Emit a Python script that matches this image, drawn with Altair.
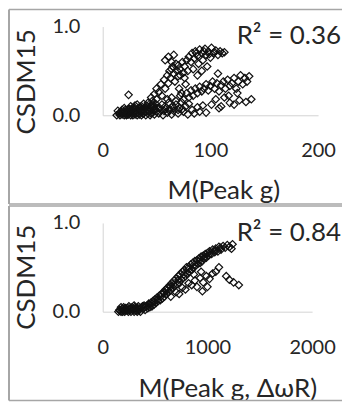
import altair as alt
import pandas as pd

FONT = "Lato"
TXT = "#262626"

# ---------------- data: top panel, CSDM15 vs M(Peak g) ----------------
top_x = [13, 14, 15, 16, 17, 18, 18, 19, 20, 20, 21, 22, 22, 23, 24, 24, 25, 26, 26, 27,
         28, 28, 29, 30, 30, 31, 32, 32, 33, 34, 34, 35, 36, 36, 37, 38, 38, 39, 40, 40,
         41, 42, 42, 43, 44, 44, 45, 46, 46, 47, 48, 48, 49, 50, 50,
         16, 19, 21, 23, 25, 27, 29, 31, 33, 35, 37, 39, 41, 43, 45, 47, 49, 51, 26, 30,
         34, 38, 42, 46, 54, 58, 62, 66, 70, 74,
         52, 53, 55, 56, 57, 58, 60, 61, 62, 64, 65, 66, 68, 70, 71, 73, 75, 77, 79, 80,
         83, 85, 88, 90, 93, 96,
         45, 48, 50, 52, 54, 55, 57, 58, 60, 61, 62, 63, 65, 66, 67, 68, 69, 70, 71, 72,
         73, 74, 75, 76, 77, 78, 79, 64, 70, 72, 76,
         58, 61, 64, 66,
         80, 82, 83, 85, 86, 88, 89, 90, 92, 93, 95, 96, 98, 100, 101, 103, 105, 107, 109, 111, 113,
         87, 94, 99, 104,
         84, 92, 97, 107, 88,
         60, 64, 68, 72, 75, 78, 80, 82, 84, 86, 88, 90, 92, 94, 96, 98, 100, 102, 104, 106,
         108, 110, 112, 114, 116, 118, 120, 122, 124, 126, 128, 130, 132, 134, 136, 125, 117,
         101, 105, 110, 113, 118, 122, 127, 133, 138, 108,
         24]
top_y = [0.00, 0.05, 0.02, 0.00, 0.04, 0.01, 0.06, 0.03, 0.00, 0.08, 0.02, 0.05, 0.00, 0.03, 0.07, 0.01, 0.04, 0.00, 0.10, 0.02,
         0.06, 0.00, 0.03, 0.08, 0.01, 0.05, 0.00, 0.12, 0.03, 0.07, 0.01, 0.04, 0.00, 0.10, 0.06, 0.02, 0.13, 0.04, 0.00, 0.09,
         0.06, 0.02, 0.14, 0.04, 0.08, 0.00, 0.11, 0.03, 0.16, 0.06, 0.01, 0.10, 0.13, 0.04, 0.18,
         0.02, 0.03, 0.06, 0.01, 0.07, 0.04, 0.08, 0.03, 0.06, 0.09, 0.02, 0.07, 0.11, 0.05, 0.02, 0.09, 0.06, 0.08, 0.06, 0.11,
         0.09, 0.08, 0.07, 0.12, 0.06, 0.07, 0.05, 0.08, 0.06, 0.07,
         0.02, 0.08, 0.12, 0.00, 0.05, 0.10, 0.03, 0.14, 0.07, 0.01, 0.10, 0.05, 0.12, 0.02, 0.08, 0.15, 0.04, 0.10, 0.01, 0.13,
         0.06, 0.02, 0.09, 0.04, 0.11, 0.03,
         0.20, 0.24, 0.30, 0.26, 0.35, 0.22, 0.40, 0.30, 0.45, 0.36, 0.50, 0.42, 0.55, 0.47, 0.38, 0.58, 0.50, 0.44, 0.30, 0.52,
         0.25, 0.60, 0.48, 0.55, 0.35, 0.62, 0.50, 0.52, 0.56, 0.45, 0.42,
         0.62, 0.66, 0.60, 0.68,
         0.66, 0.60, 0.70, 0.64, 0.72, 0.67, 0.58, 0.74, 0.70, 0.62, 0.75, 0.68, 0.72, 0.65, 0.76, 0.70, 0.73, 0.68, 0.72, 0.70, 0.71,
         0.70, 0.72, 0.69, 0.71,
         0.52, 0.50, 0.55, 0.47, 0.45,
         0.18, 0.20, 0.16, 0.22, 0.18, 0.25, 0.20, 0.28, 0.22, 0.30, 0.25, 0.32, 0.27, 0.30, 0.35, 0.28, 0.33, 0.38, 0.30, 0.36,
         0.27, 0.34, 0.38, 0.30, 0.40, 0.33, 0.36, 0.42, 0.30, 0.38, 0.45, 0.35, 0.42, 0.38, 0.44, 0.25, 0.22,
         0.12, 0.18, 0.10, 0.20, 0.14, 0.12, 0.17, 0.15, 0.18, 0.08,
         0.23]

# ---------------- data: bottom panel, CSDM15 vs M(Peak g, ΔωR) ----------------
bot_x = [150, 160, 175, 185, 200, 210, 220, 235, 245, 255, 270, 280, 290, 300, 315, 325, 340, 350, 360, 370,
         385, 395, 405, 415, 430, 440, 450, 200, 250, 300, 330, 190, 230, 265, 310, 175,
         165, 195, 215, 240, 260, 285, 305, 335, 355, 380, 400, 425, 445, 470, 495, 525, 555, 585, 615, 645,
         460, 470, 480, 490, 500, 510, 520, 530, 540, 550, 560, 570, 580, 590, 600, 610, 620, 630, 640, 650,
         660, 670, 680, 690, 700, 710, 720, 730, 740, 750, 760, 770, 780, 790, 800, 810, 820, 830, 840, 850,
         860, 870, 880, 890, 900, 910, 920, 930, 940, 950, 960, 970, 980, 990, 1000, 1010, 1020, 1040, 1050, 1070,
         1080, 1100, 1110, 1130, 1150, 1170, 1190, 1210, 1230, 1240,
         675, 725, 775, 825, 875, 925, 975, 1025, 1075, 1125,
         650, 700, 730, 760, 790, 820, 850, 880, 900, 930, 960, 990, 1020, 1050, 1080, 1110, 952, 1000, 870, 940,
         1180, 1210, 1250, 1300]
bot_y = [0.00, 0.02, 0.00, 0.03, 0.01, 0.00, 0.04, 0.01, 0.00, 0.03, 0.00, 0.05, 0.02, 0.00, 0.04, 0.01, 0.06, 0.02, 0.00, 0.05,
         0.03, 0.07, 0.02, 0.06, 0.04, 0.09, 0.05, 0.05, 0.06, 0.07, 0.00, 0.00, 0.02, 0.04, 0.02, 0.05,
         0.01, 0.03, 0.02, 0.04, 0.02, 0.03, 0.05, 0.04, 0.03, 0.06, 0.05, 0.07, 0.08, 0.09, 0.11, 0.14, 0.17, 0.21, 0.24, 0.28,
         0.10, 0.06, 0.12, 0.08, 0.14, 0.10, 0.16, 0.12, 0.18, 0.13, 0.20, 0.15, 0.22, 0.17, 0.25, 0.20, 0.27, 0.22, 0.30, 0.24,
         0.32, 0.27, 0.35, 0.29, 0.37, 0.31, 0.40, 0.33, 0.42, 0.36, 0.45, 0.38, 0.47, 0.40, 0.50, 0.43, 0.50, 0.45, 0.53, 0.47,
         0.55, 0.50, 0.57, 0.52, 0.58, 0.54, 0.60, 0.55, 0.62, 0.57, 0.63, 0.60, 0.65, 0.61, 0.66, 0.63, 0.68, 0.65, 0.70, 0.67,
         0.71, 0.68, 0.73, 0.70, 0.74, 0.72, 0.75, 0.73, 0.71, 0.76,
         0.30, 0.36, 0.42, 0.48, 0.53, 0.58, 0.62, 0.66, 0.69, 0.72,
         0.17, 0.22, 0.20, 0.27, 0.25, 0.32, 0.30, 0.35, 0.28, 0.38, 0.33, 0.40, 0.37, 0.43, 0.45, 0.50, 0.23, 0.28, 0.42, 0.45,
         0.40, 0.36, 0.33, 0.30]

r2_labels = ["R\u00b2 = 0.36", "R\u00b2 = 0.84"]
x_titles = ["M(Peak g)", "M(Peak g, \u0394\u03c9R)"]
x_ticks = [[0, 100, 200], [0, 1000, 2000]]
y_ticks = [0, 1]

top_df = pd.DataFrame({"x": top_x, "y": top_y})
bot_df = pd.DataFrame({"x": bot_x, "y": bot_y})

BORDER = "#a6a6a6"


def panel(df, xmax, xticks, xtitle, r2, width, title_dx, title_dy, ytitle_dy, label_pad):
    pts = alt.Chart(df).mark_point(
        shape="diamond", filled=False, size=56, strokeWidth=1.2,
        color="#111111", opacity=1, clip=False
    ).encode(
        x=alt.X("x:Q", scale=alt.Scale(domain=[0, xmax], nice=False, zero=True),
                axis=alt.Axis(values=xticks, format="d", title=xtitle, ticks=False, tickSize=0, grid=False,
                              domainColor="#d4d4d4", domainWidth=1,
                              labelFont=FONT, labelFontSize=20, labelColor=TXT,
                              labelPadding=label_pad, labelBaseline="middle", labelFlush=False,
                              labelOverlap=False,
                              titleFont=FONT, titleFontSize=26, titleFontWeight="normal",
                              titleColor=TXT, titleX=title_dx, titleY=title_dy,
                              titleAlign="center", titleBaseline="middle")),
        y=alt.Y("y:Q", scale=alt.Scale(domain=[0, 1], nice=False),
                axis=alt.Axis(values=y_ticks, format=".1f", title="CSDM15", ticks=False, tickSize=0,
                              grid=False, domainColor="#d4d4d4", domainWidth=1,
                              labelFont=FONT, labelFontSize=20, labelColor=TXT,
                              labelPadding=23, labelFlush=False, labelOverlap=False,
                              titleFont=FONT, titleFontSize=26, titleFontWeight="normal",
                              titleColor=TXT, titleAngle=270, titleX=-76, titleY=ytitle_dy,
                              titleAlign="center", titleBaseline="middle")),
    )
    one = alt.Data(values=[{}])
    r2_text = alt.Chart(one).mark_text(
        text=r2, font=FONT, fontSize=26, color=TXT, align="right", baseline="middle"
    ).encode(x=alt.value(239), y=alt.value(10))
    bounds = alt.Chart(one).mark_rect(fill="transparent", strokeWidth=0).encode(
        x=alt.value(-95), x2=alt.value(240), y=alt.value(-18), y2=alt.value(179))
    left = alt.Chart(one).mark_rule(color=BORDER, strokeWidth=2).encode(
        x=alt.value(-94), y=alt.value(-17), y2=alt.value(178))
    top = alt.Chart(one).mark_rule(color=BORDER, strokeWidth=1.5).encode(
        x=alt.value(-94), x2=alt.value(240), y=alt.value(-17))
    bottom = alt.Chart(one).mark_rule(color=BORDER, strokeWidth=1.5).encode(
        x=alt.value(-94), x2=alt.value(240), y=alt.value(178))
    return alt.layer(bounds, left, top, bottom, pts, r2_text).properties(width=width, height=89)


p1 = panel(top_df, 200, x_ticks[0], x_titles[0], r2_labels[0], 216, 121, 75, 55, 35)
p2 = panel(bot_df, 2000, x_ticks[1], x_titles[1], r2_labels[1], 210, 125, 77, 54, 36)

chart = alt.vconcat(p1, p2, spacing=0).properties(padding=0).configure_view(stroke=None)

chart.save("out.html", embed_options={"renderer": "svg", "actions": False})
